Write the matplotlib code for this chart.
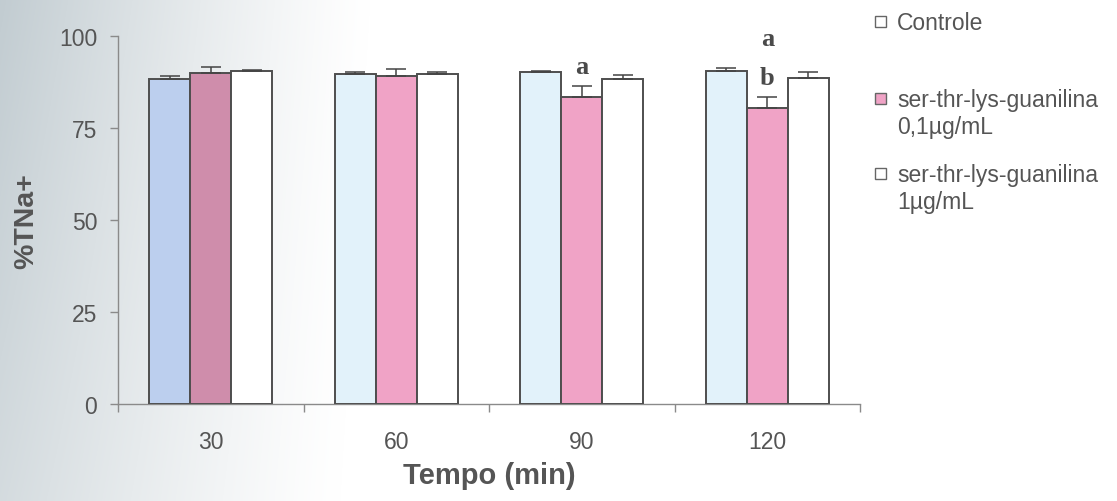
import numpy as np
import matplotlib
matplotlib.use("Agg")
import matplotlib.pyplot as plt
from matplotlib.patches import Rectangle

# Data
tempos = ["30", "60", "90", "120"]
series_names = ["Controle", "ser-thr-lys-guanilina\n0,1µg/mL", "ser-thr-lys-guanilina\n1µg/mL"]
controle = [88.3, 89.6, 90.1, 90.4]
guan_01 = [89.9, 89.1, 83.3, 80.4]
guan_1 = [90.4, 89.6, 88.2, 88.6]
err_controle = [0.9, 0.6, 0.4, 0.9]
err_guan_01 = [1.6, 2.0, 3.0, 2.9]
err_guan_1 = [0.4, 0.7, 1.1, 1.5]
letters_guan_01 = [[], [], ["a"], ["b", "a"]]
yticks = [0, 25, 50, 75, 100]

# Fill colours (first group is printed slightly darker)
col_controle = ["#bccfee", "#e2f2fa", "#e2f2fa", "#e2f2fa"]
col_guan_01 = ["#cf8dab", "#f0a3c6", "#f0a3c6", "#f0a3c6"]
col_guan_1 = ["#ffffff", "#ffffff", "#ffffff", "#ffffff"]

plt.rcParams["font.family"] = ["Liberation Sans", "DejaVu Sans"]
grey_txt = "#555555"
edge = "#4e4e4e"

fig = plt.figure(figsize=(11.17, 5.02), dpi=100)

# Soft grey shading along the left side of the page
bg = fig.add_axes([0, 0, 1, 1], zorder=-10)
W, H = 1117, 502
xx = np.arange(W)[None, :]
yy = np.arange(H)[:, None]
t = np.clip(1 - xx / (370 - 30 * yy / H), 0, 1) ** 1.2
t = t * (1.0 - 0.3 * yy / H)
shade = np.array([0.76, 0.80, 0.82])
img = 1 - t[..., None] * (1 - shade)[None, None, :]
bg.imshow(img, aspect="auto", extent=[0, 1, 0, 1], origin="upper")
bg.set_axis_off()

ax = fig.add_axes([118 / W, 1 - 405 / H, 742 / W, 368 / H])
ax.set_facecolor("none")

x = np.arange(len(tempos))
w = 0.221
bar_kw = dict(width=w, edgecolor=edge, linewidth=1.4, zorder=3)
err_kw = dict(ecolor="#444444", elinewidth=1.1, capthick=1.1)
groups = [
    (controle, err_controle, col_controle, -w),
    (guan_01, err_guan_01, col_guan_01, 0.0),
    (guan_1, err_guan_1, col_guan_1, w),
]
for vals, errs, cols, off in groups:
    ax.bar(x + off, vals, color=cols, yerr=[np.zeros(len(errs)), errs],
           capsize=7, error_kw=err_kw, **bar_kw)

# Significance letters above the 0,1µg/mL bars
for i, labs in enumerate(letters_guan_01):
    base = guan_01[i] + err_guan_01[i] + 5.3
    for k, lab in enumerate(labs):
        ax.text(x[i], base + 10.8 * k, lab, ha="center", va="center",
                family=["Liberation Serif", "DejaVu Serif"], fontweight="bold",
                fontsize=19, color="#4a4a4a", clip_on=False)

ax.set_xlim(-0.5, len(tempos) - 0.5)
ax.set_ylim(0, 100)
ax.set_yticks(yticks)
ax.set_yticklabels([str(v) for v in yticks])
ax.set_xticks(x)
ax.set_xticklabels(tempos)
ax.set_xticks(np.arange(len(tempos) + 1) - 0.5, minor=True)

for s in ["top", "right"]:
    ax.spines[s].set_visible(False)
for s in ["left", "bottom"]:
    ax.spines[s].set_color("#8a8a8a")
    ax.spines[s].set_linewidth(1.0)

ax.tick_params(axis="y", direction="out", length=6, width=1, color="#8a8a8a",
               labelsize=16.5, labelcolor=grey_txt, pad=9)
ax.tick_params(axis="x", which="major", length=0, labelsize=16.5,
               labelcolor=grey_txt, pad=19)
ax.tick_params(axis="x", which="minor", direction="out", length=6, width=1,
               color="#8a8a8a")

ax.set_ylabel("%TNa+", fontsize=20.5, fontweight="bold", color=grey_txt)
ax.yaxis.set_label_coords(-0.106, 0.5)
ax.set_xlabel("Tempo (min)", fontsize=21, fontweight="bold", color=grey_txt)
ax.xaxis.set_label_coords(0.5, -0.155)

# Legend drawn beside the axes
leg_cols = [col_guan_1[0], col_guan_01[1], col_guan_1[0]]
leg_y = [23, 100, 175]
for name, c, yp in zip(series_names, leg_cols, leg_y):
    fig.patches.append(Rectangle((875 / W, 1 - (yp + 5) / H), 11 / W, 11 / H,
                                 transform=fig.transFigure, facecolor=c,
                                 edgecolor="#666666", linewidth=1.0))
    fig.text(897 / W, 1 - (yp - 11) / H, name, ha="left", va="top",
             fontsize=16.5, color=grey_txt, linespacing=1.2)

fig.savefig("out.png", dpi=100)
